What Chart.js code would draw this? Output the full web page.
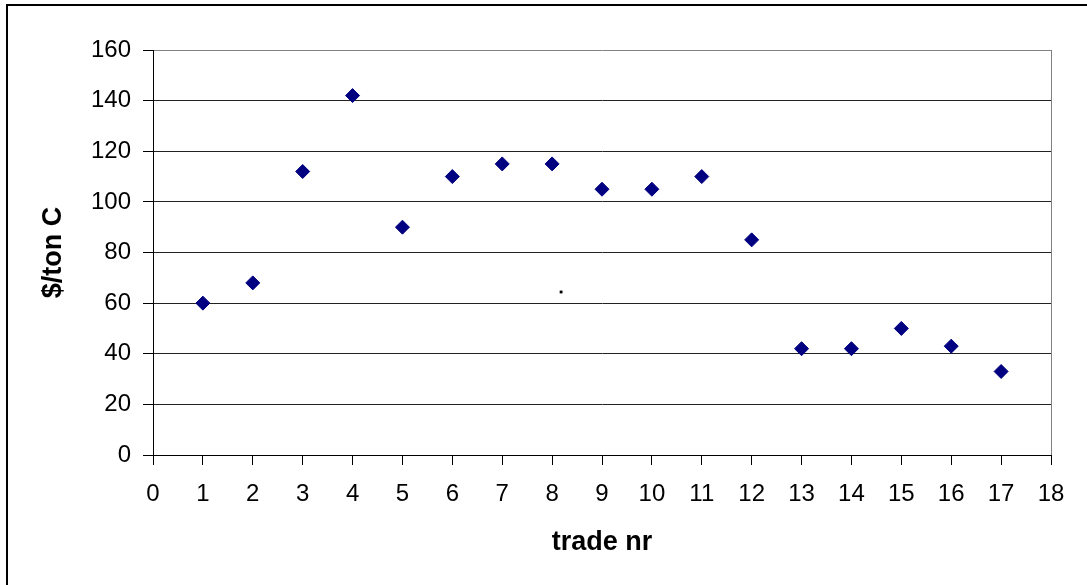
<!DOCTYPE html>
<html>
<head>
<meta charset="utf-8">
<script src="https://cdn.jsdelivr.net/npm/chart.js@4"></script>
<style>
  html, body { margin: 0; padding: 0; background: #fff; }
  #wrap { position: relative; width: 1087px; height: 585px; overflow: hidden; }
  #frame {
    position: absolute; left: 6px; top: 4px; right: -4px; bottom: -4px;
    border-left: 2px solid #000; border-top: 2px solid #000;
  }
  canvas { position: absolute; left: 0; top: 0; }
</style>
</head>
<body>
<div id="wrap">
  <div id="frame"></div>
  <canvas id="chart" width="1087" height="585"></canvas>
</div>
<script>
// Data
const tradeNr = [1, 2, 3, 4, 5, 6, 7, 8, 9, 10, 11, 12, 13, 14, 15, 16, 17];
const pricePerTon = [60, 68, 112, 142, 90, 110, 115, 115, 105, 105, 110, 85, 42, 42, 50, 43, 33];
// the lone small black dot near trade 8
const strayX = [8.18];
const strayY = [64.4];

const xTicks = { min: 0, max: 18, step: 1 };
const yTicks = { min: 0, max: 160, step: 20 };

const FONT = 'Arial, "Liberation Sans", sans-serif';

const ctx = document.getElementById('chart').getContext('2d');
new Chart(ctx, {
  type: 'scatter',
  data: {
    datasets: [
      {
        label: '$/ton C',
        data: tradeNr.map((x, i) => ({ x: x, y: pricePerTon[i] })),
        pointStyle: 'rectRot',
        pointRadius: 7,
        pointHoverRadius: 7,
        backgroundColor: '#000080',
        borderColor: '#000080',
        borderWidth: 1
      },
      {
        label: 'dot',
        data: strayX.map((x, i) => ({ x: x, y: strayY[i] })),
        pointStyle: 'rect',
        pointRadius: 2,
        backgroundColor: '#000',
        borderColor: '#000',
        borderWidth: 0
      }
    ]
  },
  options: {
    responsive: false,
    animation: false,
    layout: { padding: { top: 50, right: 36, left: 0, bottom: 0 } },
    plugins: { legend: { display: false }, tooltip: { enabled: false } },
    scales: {
      x: {
        type: 'linear',
        min: xTicks.min,
        max: xTicks.max,
        afterFit: scale => { scale.height = 130; },
        ticks: { stepSize: xTicks.step, color: '#000', padding: 15, font: { family: FONT, size: 24 } },
        grid: {
          color: c => (c.tick && c.tick.value === xTicks.max ? '#808080' : 'transparent'),
          tickColor: '#000',
          tickLength: 10,
          lineWidth: 1
        },
        border: { color: '#000', width: 1 },
        title: { display: true, text: 'trade nr', color: '#000', font: { family: FONT, size: 27, weight: 'bold' }, padding: { top: 0, bottom: 26 } }
      },
      y: {
        min: yTicks.min,
        max: yTicks.max,
        afterFit: scale => { scale.width = 153; },
        ticks: { stepSize: yTicks.step, color: '#000', padding: 12, font: { family: FONT, size: 24 } },
        grid: {
          color: c => (c.tick && c.tick.value === yTicks.max ? '#808080' : '#222'),
          tickColor: '#000',
          tickLength: 10,
          lineWidth: 1
        },
        border: { color: '#000', width: 1 },
        title: { display: true, text: '$/ton C', color: '#000', font: { family: FONT, size: 27, weight: 'bold' }, padding: { top: 37, bottom: 0 } }
      }
    }
  }
});
</script>
</body>
</html>
